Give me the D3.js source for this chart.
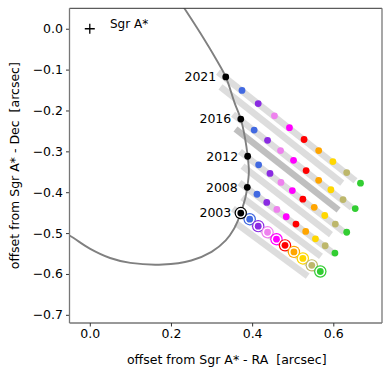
<!DOCTYPE html>
<html lang="en">
<head>
<meta charset="UTF-8">
<script src="https://cdn.jsdelivr.net/npm/d3@7"></script>
<style>
    body { margin: 0; background: white; }
    text { font-family: "DejaVu Sans", sans-serif; fill: black; }
</style>
</head>
<body>
<div id="chart"></div>
<script>
    // epochs and where the star sits on the orbit
    const years = ["2021", "2016", "2012", "2008", "2003"];
    const yearX = [0.335, 0.372, 0.389, 0.388, 0.372];
    const yearY = [-0.118, -0.221, -0.312, -0.388, -0.451];

    const dotColors = ["royalblue", "blueviolet", "violet", "magenta", "red", "orange", "gold", "darkkhaki", "limegreen"];

    // colored points per epoch (same order as years)
    const rowX = [
        [0.375, 0.415, 0.455, 0.492, 0.528, 0.564, 0.599, 0.633, 0.667],
        [0.405, 0.438, 0.470, 0.502, 0.533, 0.564, 0.594, 0.624, 0.654],
        [0.416, 0.444, 0.471, 0.499, 0.525, 0.553, 0.579, 0.605, 0.633],
        [0.412, 0.436, 0.461, 0.484, 0.508, 0.532, 0.556, 0.580, 0.604],
        [0.394, 0.415, 0.438, 0.460, 0.481, 0.503, 0.525, 0.547, 0.568]
    ];
    const rowY = [
        [-0.151, -0.183, -0.213, -0.242, -0.271, -0.298, -0.325, -0.352, -0.378],
        [-0.248, -0.273, -0.298, -0.322, -0.347, -0.371, -0.394, -0.418, -0.440],
        [-0.333, -0.354, -0.376, -0.396, -0.417, -0.437, -0.457, -0.478, -0.498],
        [-0.405, -0.425, -0.442, -0.460, -0.478, -0.496, -0.514, -0.531, -0.549],
        [-0.466, -0.483, -0.498, -0.515, -0.530, -0.546, -0.562, -0.579, -0.594]
    ];

    // orbit
    const orbitX = [-0.08, -0.05, 0.0, 0.05, 0.10, 0.18, 0.25, 0.30, 0.335, 0.355, 0.368, 0.372, 0.383, 0.388, 0.392, 0.389, 0.382, 0.372, 0.357, 0.335, 0.312, 0.27, 0.233, 0.20];
    const orbitY = [-0.492, -0.506, -0.538, -0.561, -0.573, -0.577, -0.567, -0.546, -0.518, -0.490, -0.462, -0.451, -0.415, -0.388, -0.350, -0.312, -0.265, -0.221, -0.182, -0.118, -0.076, -0.007, 0.050, 0.100];

    const xTicks = [0.0, 0.2, 0.4, 0.6];
    const yTicks = [0.0, -0.1, -0.2, -0.3, -0.4, -0.5, -0.6, -0.7];

    const width = 392, height = 373;
    const pLeft = 69.5, pRight = 382, pTop = 8.3, pBottom = 323;

    const x = d3.scaleLinear().domain([-0.05, 0.72]).range([pLeft, pRight]);
    const y = d3.scaleLinear().domain([-0.72, 0.05]).range([pBottom, pTop]);

    const svg = d3.select("#chart").append("svg")
        .attr("width", width)
        .attr("height", height);

    svg.append("clipPath").attr("id", "clip")
        .append("rect")
        .attr("x", pLeft).attr("y", pTop)
        .attr("width", pRight - pLeft).attr("height", pBottom - pTop);

    const plot = svg.append("g").attr("clip-path", "url(#clip)");

    // gray light-travel bands behind each row
    const bandG = plot.append("g");
    years.forEach((yr, i) => {
        const x0 = x(yearX[i]), y0 = y(yearY[i]);
        const x1 = x(rowX[i][7]), y1 = y(rowY[i][7]);
        const len = Math.hypot(x1 - x0, y1 - y0);
        const ux = (x1 - x0) / len, uy = (y1 - y0) / len;
        const px = -uy, py = ux;   // perpendicular, pointing down-left
        const bands = [
            { off: 1, s: -9, e: 12, o: 0.27 },
            { off: 11, s: 2, e: 3, o: yr === "2016" ? 0.5 : 0.27 }
        ];
        bands.forEach(b => {
            bandG.append("line")
                .attr("x1", x0 + px * b.off + ux * b.s)
                .attr("y1", y0 + py * b.off + uy * b.s)
                .attr("x2", x1 + px * b.off + ux * b.e)
                .attr("y2", y1 + py * b.off + uy * b.e)
                .attr("stroke", "#808080")
                .attr("stroke-opacity", b.o)
                .attr("stroke-width", 6.5);
        });
    });

    // orbit
    const orbit = orbitX.map((v, i) => [v, orbitY[i]]);
    plot.append("path")
        .datum(orbit)
        .attr("d", d3.line().x(d => x(d[0])).y(d => y(d[1])).curve(d3.curveCatmullRom))
        .attr("fill", "none")
        .attr("stroke", "gray")
        .attr("stroke-width", 1.9);

    // colored dots
    years.forEach((yr, i) => {
        const g = plot.append("g");
        const ringed = yr === "2003";
        rowX[i].forEach((v, j) => {
            const cx = x(v), cy = y(rowY[i][j]);
            if (ringed) {
                g.append("circle").attr("cx", cx).attr("cy", cy).attr("r", 6.2).attr("fill", dotColors[j]);
                g.append("circle").attr("cx", cx).attr("cy", cy).attr("r", 5).attr("fill", "white");
            }
            g.append("circle").attr("cx", cx).attr("cy", cy).attr("r", 3.4).attr("fill", dotColors[j]);
        });
    });

    // epoch points + labels
    years.forEach((yr, i) => {
        const cx = x(yearX[i]), cy = y(yearY[i]);
        if (yr === "2003") {
            plot.append("circle").attr("cx", cx).attr("cy", cy).attr("r", 6.2).attr("fill", "black");
            plot.append("circle").attr("cx", cx).attr("cy", cy).attr("r", 5).attr("fill", "white");
        }
        plot.append("circle").attr("cx", cx).attr("cy", cy).attr("r", 3.4).attr("fill", "black");
        svg.append("text")
            .attr("x", cx - 9.5)
            .attr("y", cy + 4.3)
            .attr("text-anchor", "end")
            .attr("font-size", 12.5)
            .text(yr);
    });

    // Sgr A*
    const sx = x(0), sy = y(0);
    svg.append("path")
        .attr("d", `M${sx - 5},${sy}H${sx + 5}M${sx},${sy - 5}V${sy + 5}`)
        .attr("stroke", "black")
        .attr("stroke-width", 1.3);
    svg.append("text")
        .attr("x", 110).attr("y", sy - 0.5)
        .attr("font-size", 12)
        .text("Sgr A*");

    // axes
    const xAxis = svg.append("g")
        .attr("transform", `translate(0,${pBottom})`)
        .call(d3.axisBottom(x).tickValues(xTicks).tickFormat(d3.format(".1f")).tickSize(3.5).tickPadding(3));
    const yAxis = svg.append("g")
        .attr("transform", `translate(${pLeft},0)`)
        .call(d3.axisLeft(y).tickValues(yTicks).tickFormat(d3.format(".1f")).tickSize(3.5).tickPadding(3));
    [xAxis, yAxis].forEach(a => {
        a.select(".domain").remove();
        a.selectAll("text").attr("font-size", 12.5).style("font-family", "DejaVu Sans");
        a.selectAll("line").attr("stroke", "#333");
    });

    // frame
    svg.append("line").attr("x1", pLeft).attr("x2", pRight).attr("y1", pTop).attr("y2", pTop).attr("stroke", "#333");
    svg.append("line").attr("x1", pLeft).attr("x2", pRight).attr("y1", pBottom).attr("y2", pBottom).attr("stroke", "#333");
    svg.append("line").attr("x1", pLeft).attr("x2", pLeft).attr("y1", pTop).attr("y2", pBottom).attr("stroke", "#777").attr("stroke-width", 1.3);
    svg.append("line").attr("x1", pRight).attr("x2", pRight).attr("y1", pTop).attr("y2", pBottom).attr("stroke", "#777").attr("stroke-width", 1.3);

    svg.append("text")
        .attr("x", (pLeft + pRight) / 2 + 1)
        .attr("y", 364)
        .attr("text-anchor", "middle")
        .attr("font-size", 12.5)
        .text("offset from Sgr A* - RA  [arcsec]")
        .style("white-space", "pre");

    svg.append("text")
        .attr("transform", `translate(19,${(pTop + pBottom) / 2}) rotate(-90)`)
        .attr("text-anchor", "middle")
        .attr("font-size", 12.5)
        .text("offset from Sgr A* - Dec  [arcsec]")
        .style("white-space", "pre");
</script>
</body>
</html>
